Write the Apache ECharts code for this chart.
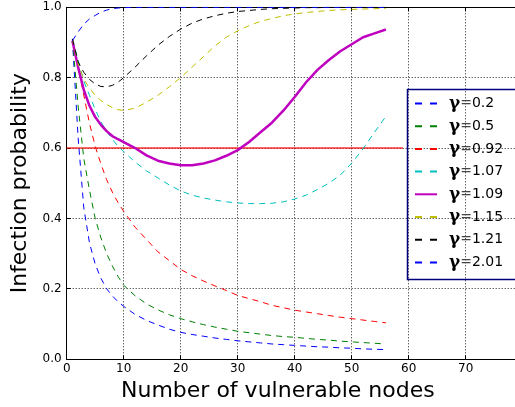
<!DOCTYPE html>
<html><head><meta charset="utf-8">
<script src="https://cdn.jsdelivr.net/npm/echarts@6/dist/echarts.min.js"></script>
<style>html,body{margin:0;padding:0;background:#fff}#c{width:515px;height:407px}</style>
</head><body><div id="c"></div>
<script>
// ---- data ----
const xs = [1,2,3,4,5,6,7,8,9,10,12,14,16,18,20,22,24,26,28,30,32,34,36,38,40,42,44,46,48,50,52,54,56];
const gammaLabels = ['0.2','0.5','0.92','1.07','1.09','1.15','1.21','2.01'];
const y_g0_2  = [0.91,0.63,0.43,0.33,0.27,0.23,0.20,0.18,0.163,0.15,0.127,0.11,0.097,0.085,0.076,0.07,0.065,0.06,0.056,0.052,0.049,0.046,0.043,0.041,0.039,0.037,0.035,0.034,0.032,0.031,0.029,0.028,0.027];
const y_g0_5  = [0.91,0.72,0.57,0.48,0.40,0.345,0.30,0.265,0.235,0.21,0.18,0.157,0.14,0.126,0.115,0.106,0.098,0.091,0.085,0.079,0.075,0.071,0.067,0.064,0.062,0.059,0.056,0.054,0.051,0.049,0.047,0.045,0.043];
const y_g0_92 = [0.91,0.83,0.75,0.67,0.605,0.555,0.51,0.475,0.445,0.42,0.375,0.34,0.305,0.28,0.255,0.237,0.222,0.208,0.195,0.181,0.172,0.163,0.153,0.146,0.139,0.134,0.129,0.124,0.119,0.115,0.111,0.107,0.103];
const y_g1_07 = [0.91,0.85,0.79,0.75,0.71,0.675,0.648,0.625,0.605,0.59,0.56,0.535,0.515,0.495,0.478,0.466,0.458,0.452,0.447,0.444,0.442,0.442,0.443,0.447,0.455,0.466,0.482,0.5,0.523,0.557,0.598,0.645,0.69];
const y_g1_09 = [0.905,0.83,0.765,0.72,0.688,0.666,0.648,0.634,0.625,0.617,0.6,0.579,0.564,0.556,0.551,0.551,0.556,0.565,0.578,0.594,0.617,0.645,0.672,0.706,0.745,0.787,0.822,0.85,0.875,0.895,0.915,0.926,0.937];
const y_g1_15 = [0.91,0.84,0.795,0.77,0.75,0.735,0.724,0.715,0.709,0.707,0.713,0.73,0.75,0.774,0.80,0.83,0.86,0.89,0.915,0.933,0.948,0.96,0.968,0.976,0.981,0.985,0.988,0.991,0.993,0.994,0.995,0.996,0.997];
const y_g1_21 = [0.91,0.845,0.815,0.795,0.782,0.775,0.774,0.778,0.787,0.80,0.83,0.862,0.892,0.917,0.938,0.955,0.967,0.976,0.983,0.988,0.991,0.994,0.996,0.997,0.998,0.999,0.999,1.0,1.0,1.0,1.0,1.0,1.0];
const y_g2_01 = [0.905,0.93,0.952,0.967,0.977,0.986,0.992,0.996,0.998,0.999,1.0,1.0,1.0,1.0,1.0,1.0,1.0,1.0,1.0,1.0,1.0,1.0,1.0,1.0,1.0,1.0,1.0,1.0,1.0,1.0,1.0,1.0,1.0];
const thresholdX = [0, 59];
const thresholdY = [0.6, 0.6];
const xMin = 0, xMax = 78.65, xStep = 10;   // the picture is cut off just before x = 80
const yMin = 0, yMax = 1, yStep = 0.2;

// ---- styling ----
const seriesValues = [y_g0_2, y_g0_5, y_g0_92, y_g1_07, y_g1_09, y_g1_15, y_g1_21, y_g2_01];
const styles = [
  {color:'#0000ff', width:1, type:[6,5]},
  {color:'#008000', width:1, type:[6,5]},
  {color:'#ff0000', width:1, type:[6,5]},
  {color:'#00bfbf', width:1, type:[6,5]},
  {color:'#bf00bf', width:2.5, type:'solid'},
  {color:'#bfbf00', width:1, type:[6,5]},
  {color:'#000000', width:1, type:[6,5]},
  {color:'#0000ff', width:1, type:[6,5]}
];

const series = [{
  name: 'threshold', type: 'line', symbol: 'none', silent: true, z: 1,
  data: thresholdX.map((x, i) => [x, thresholdY[i]]),
  lineStyle: {color: 'rgba(255,0,0,0.6)', width: 2}
}];
gammaLabels.forEach((g, k) => {
  series.push({
    name: 'γ=' + g, type: 'line', symbol: 'none', smooth: false, z: 3,
    data: xs.map((x, i) => [x, seriesValues[k][i]]),
    lineStyle: {color: styles[k].color, width: styles[k].width, type: styles[k].type},
    itemStyle: {color: styles[k].color}
  });
});

const chart = echarts.init(document.getElementById('c'), null, {renderer: 'canvas'});
const ff = 'DejaVu Sans';
const dotted = {color: '#222', width: 1, type: [1, 2]};
chart.setOption({
  animation: false,
  backgroundColor: '#fff',
  textStyle: {fontFamily: ff},
  grid: {left: 66.7, right: 0, top: 7.3, bottom: 46.3},
  graphic: [{
    type: 'rect', z: 10, silent: true,
    shape: {x: 407.5, y: 89.5, width: 140, height: 190},
    style: {fill: 'none', stroke: '#000080', lineWidth: 1.5}
  }],
  legend: {
    orient: 'vertical', left: 407, top: 89,
    padding: [6, 20, 10, 7],
    itemWidth: 22, itemHeight: 12, itemGap: 5.7,
    borderWidth: 0, backgroundColor: 'transparent',
    itemStyle: {opacity: 0, borderWidth: 0},
    data: gammaLabels.map((g, k) => ({
      name: 'γ=' + g,
      lineStyle: styles[k].type === 'solid' ? {type: 'solid'} : {type: [7, 8]}
    })),
    formatter: name => '{g|γ}{e|=}{n|' + name.slice(2) + '}',
    textStyle: {
      padding: [0, 0, 0, 7],
      rich: {
        g: {fontFamily: 'DejaVu Serif', fontWeight: 'bold', fontSize: 17, lineHeight: 16, color: '#000'},
        e: {fontFamily: ff, fontSize: 14, lineHeight: 16, color: '#444'},
        n: {fontFamily: ff, fontSize: 14, lineHeight: 16, color: '#000'}
      }
    }
  },
  xAxis: [{
    type: 'value', min: xMin, max: xMax, interval: xStep,
    axisLine: {lineStyle: {color: '#000', width: 1}},
    axisTick: {inside: true, length: 4, lineStyle: {color: '#000'}},
    axisLabel: {fontSize: 12, color: '#000', margin: 4, fontFamily: ff, showMaxLabel: false},
    splitLine: {show: true, lineStyle: dotted},
    name: 'Number of vulnerable nodes', nameLocation: 'middle', nameGap: 20,
    nameTextStyle: {fontSize: 22, color: '#000', fontFamily: ff, padding: [0, 26, 0, 0]}
  }, {
    type: 'value', position: 'top', min: xMin, max: xMax, interval: xStep,
    axisLine: {show: true, lineStyle: {color: '#000', width: 1}},
    axisTick: {inside: true, length: 4, lineStyle: {color: '#000'}},
    axisLabel: {show: false}, splitLine: {show: false}
  }],
  yAxis: {
    type: 'value', min: yMin, max: yMax, interval: yStep,
    axisLine: {lineStyle: {color: '#000', width: 1}},
    axisTick: {inside: true, length: 4, lineStyle: {color: '#000'}},
    axisLabel: {fontSize: 12, color: '#000', margin: 5, fontFamily: ff, formatter: v => v.toFixed(1)},
    splitLine: {show: true, lineStyle: dotted},
    name: 'Infection probability', nameLocation: 'middle', nameGap: 28,
    nameTextStyle: {fontSize: 22, color: '#000', fontFamily: ff}
  },
  series: series
});
</script></body></html>
